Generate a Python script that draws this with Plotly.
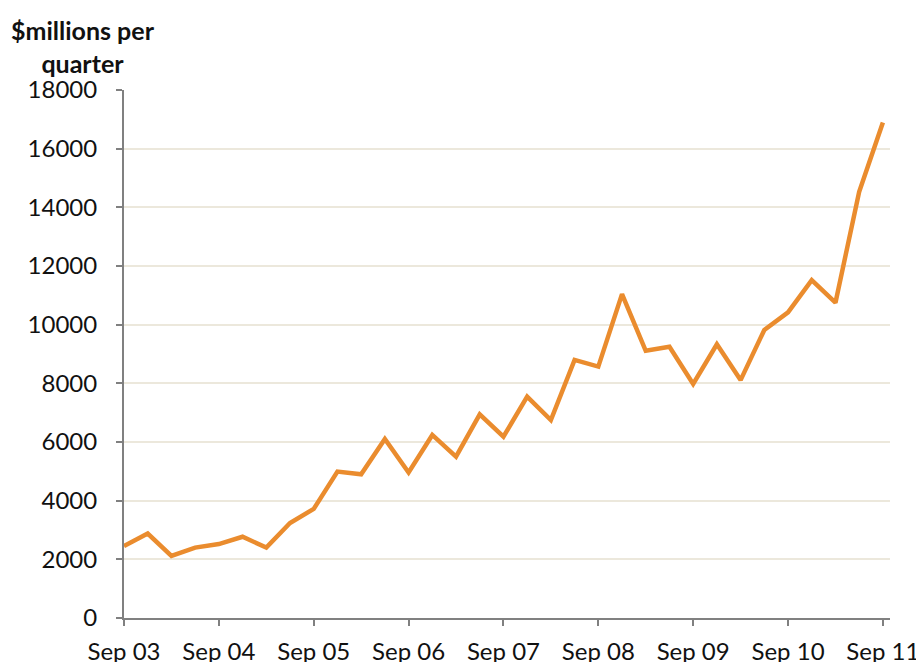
import plotly.graph_objects as go

# quarterly values, Sep 03 .. Sep 11
quarters = list(range(33))
values = [2450, 2880, 2120, 2400, 2520, 2770, 2400, 3240, 3720, 4990, 4900,
          6100, 4960, 6240, 5500, 6940, 6180, 7550, 6750, 8800, 8570, 11040,
          9110, 9250, 7980, 9330, 8110, 9820, 10420, 11520, 10750, 14530, 16890]
tick_pos = [0, 4, 8, 12, 16, 20, 24, 28, 32]
tick_text = ['Sep 03', 'Sep 04', 'Sep 05', 'Sep 06', 'Sep 07', 'Sep 08',
             'Sep 09', 'Sep 10', 'Sep 11']
y_ticks = [0, 2000, 4000, 6000, 8000, 10000, 12000, 14000, 16000, 18000]
y_text = [str(v) for v in y_ticks]

font_family = 'Lato, "Open Sans", sans-serif'

fig = go.Figure()
fig.add_trace(go.Scatter(
    x=quarters, y=values, mode='lines',
    line=dict(color='#EA8C2E', width=4.5),
    showlegend=False
))

# page body adds an 8px offset, so margins are shifted to compensate
fig.update_layout(
    width=924, height=662,
    margin=dict(l=116, r=42, t=82, b=52),
    paper_bgcolor='white', plot_bgcolor='white',
    font=dict(family=font_family, size=24, color='#111111'),
    xaxis=dict(
        range=[0, 32.3], tickvals=tick_pos, ticktext=tick_text,
        showgrid=False, showline=True, linecolor='#808080', linewidth=2,
        ticks='outside', ticklen=6, tickcolor='#808080', tickwidth=2,
        ticklabelstandoff=5, zeroline=False, automargin=False
    ),
    yaxis=dict(
        range=[0, 18000], tickvals=y_ticks, ticktext=y_text,
        showgrid=True, gridcolor='#ECE8DC', gridwidth=2,
        showline=True, linecolor='#808080', linewidth=2,
        ticks='outside', ticklen=6, tickcolor='#808080', tickwidth=2,
        ticklabelstandoff=14, zeroline=False, automargin=False
    ),
    annotations=[dict(
        text='<b>$millions per<br>quarter</b>',
        xref='paper', yref='paper', x=-0.054, y=1.083,
        xanchor='center', yanchor='middle', showarrow=False,
        font=dict(family=font_family, size=25, color='#111111'),
        align='center'
    )]
)

fig.write_html("out.html")
